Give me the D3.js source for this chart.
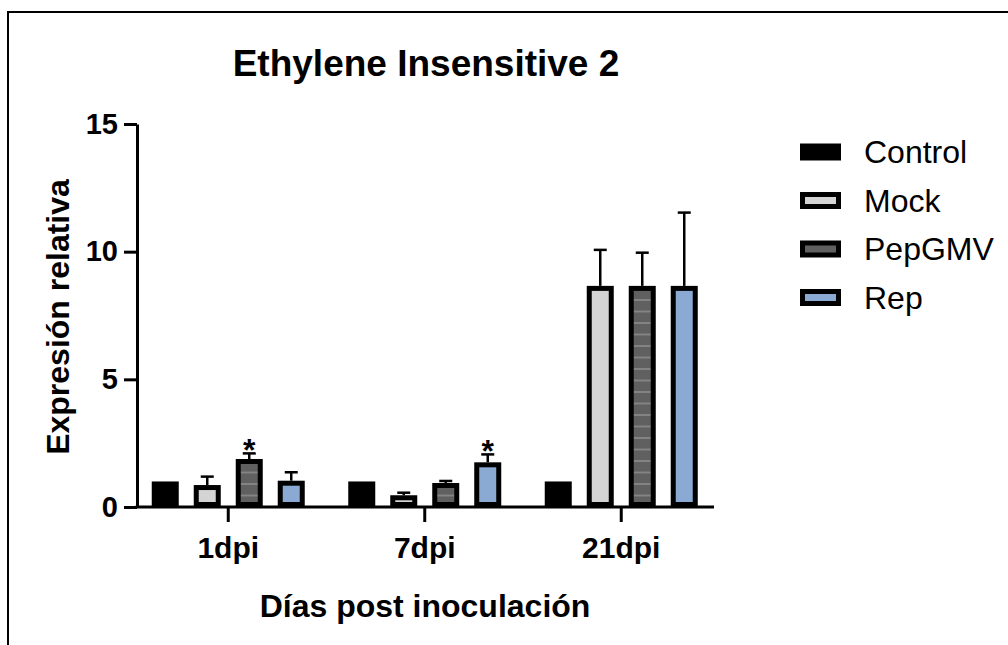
<!DOCTYPE html>
<html>
<head>
<meta charset="utf-8">
<script src="https://cdn.jsdelivr.net/npm/d3@7"></script>
<style>
  body { margin: 0; background: #fff; }
  svg text { font-family: "Liberation Sans", Arial, sans-serif; fill: #000; }
</style>
</head>
<body>
<svg id="chart" width="1008" height="645"></svg>
<script>
// data
var groups = ["1dpi", "7dpi", "21dpi"];
var series = ["Control", "Mock", "PepGMV", "Rep"];
var control = [1.0, 1.0, 1.0];
var mock = [0.86, 0.46, 8.66];
var pepgmv = [1.88, 0.94, 8.66];
var rep = [1.03, 1.75, 8.66];
var controlErr = [0, 0, 0];
var mockErr = [0.33, 0.10, 1.41];
var pepgmvErr = [0.22, 0.08, 1.30];
var repErr = [0.33, 0.31, 2.87];
var stars = [{group: "1dpi", serie: "PepGMV"}, {group: "7dpi", serie: "Rep"}];
var yTicks = [0, 5, 10, 15];

var means = {"Control": control, "Mock": mock, "PepGMV": pepgmv, "Rep": rep};
var errs = {"Control": controlErr, "Mock": mockErr, "PepGMV": pepgmvErr, "Rep": repErr};
var fills = {"Control": "#000000", "Mock": "#d4d4d4", "PepGMV": "url(#stripes)", "Rep": "#8aaad3"};
var legendFills = {"Control": "#000000", "Mock": "#d4d4d4", "PepGMV": "#606060", "Rep": "#8aaad3"};

var rows = [];
for (var i = 0; i < groups.length; i++){
    for (var j = 0; j < series.length; j++){
	rows.push({group: groups[i], serie: series[j],
		   val: means[series[j]][i], err: errs[series[j]][i]});
    }
}

var svg = d3.select("#chart");
var plotLeft = 137, plotRight = 714, plotTop = 124, plotBottom = 507;
var bw = 5; // bar border

// frame round the figure (only top and left show)
svg.append("rect")
    .attr("x", 8).attr("y", 12)
    .attr("width", 1200).attr("height", 800)
    .attr("fill", "none").attr("stroke", "#000").attr("stroke-width", 2);

var y = d3.scaleLinear().domain([0, 15]).range([plotBottom, plotTop]);
var x0 = d3.scaleBand().domain(groups).range([130, 719.5]);
var x1 = d3.scaleBand().domain(series).range([-84, 84])
    .paddingInner(0.357).paddingOuter(0.1786);

var defs = svg.append("defs");
var pat = defs.append("pattern")
    .attr("id", "stripes")
    .attr("patternUnits", "userSpaceOnUse")
    .attr("x", 0).attr("y", y(0))
    .attr("width", 10).attr("height", 11.5);
pat.append("rect").attr("width", 10).attr("height", 11.5).attr("fill", "#606060");
pat.append("rect").attr("y", -0.75).attr("width", 10).attr("height", 1.5).attr("fill", "#8e8e8e");
pat.append("rect").attr("y", 10.75).attr("width", 10).attr("height", 1.5).attr("fill", "#8e8e8e");

// title
svg.append("text")
    .attr("x", 426).attr("y", 76)
    .attr("text-anchor", "middle")
    .style("font-size", "37px").style("font-weight", "bold")
    .text("Ethylene Insensitive 2");

var barX = function(d){ return x0(d.group) + x0.bandwidth()/2 + x1(d.serie); };

// error bars (drawn first so bar border sits over the foot)
var eb = svg.append("g").selectAll("g").data(rows.filter(function(d){ return d.err > 0; }))
    .enter().append("g");
eb.append("line")
    .attr("x1", function(d){ return barX(d) + x1.bandwidth()/2; })
    .attr("x2", function(d){ return barX(d) + x1.bandwidth()/2; })
    .attr("y1", function(d){ return y(d.val); })
    .attr("y2", function(d){ return y(d.val + d.err); })
    .attr("stroke", "#000").attr("stroke-width", 2.5);
eb.append("line")
    .attr("x1", function(d){ return barX(d) + x1.bandwidth()/2 - 6.5; })
    .attr("x2", function(d){ return barX(d) + x1.bandwidth()/2 + 6.5; })
    .attr("y1", function(d){ return y(d.val + d.err); })
    .attr("y2", function(d){ return y(d.val + d.err); })
    .attr("stroke", "#000").attr("stroke-width", 2.5);

// bars, border inside the value
svg.append("g").selectAll("rect").data(rows).enter().append("rect")
    .attr("x", function(d){ return barX(d) + bw/2; })
    .attr("y", function(d){ return y(d.val) + bw/2; })
    .attr("width", x1.bandwidth() - bw)
    .attr("height", function(d){ return Math.max(0, y(0) - y(d.val) - bw); })
    .attr("fill", function(d){ return fills[d.serie]; })
    .attr("stroke", "#000").attr("stroke-width", bw);

// significance stars
svg.append("g").selectAll("text").data(stars).enter().append("text")
    .attr("x", function(d){ return x0(d.group) + x0.bandwidth()/2 + x1(d.serie) + x1.bandwidth()/2; })
    .attr("y", function(d){
	var gi = groups.indexOf(d.group);
	return y(means[d.serie][gi] + errs[d.serie][gi]) + 8;
    })
    .attr("text-anchor", "middle")
    .style("font-size", "32px").style("font-weight", "bold")
    .text("*");

// y axis
var yAxis = svg.append("g")
    .attr("transform", "translate(" + plotLeft + ",0)")
    .call(d3.axisLeft(y).tickValues(yTicks).tickSize(13).tickPadding(6).tickSizeOuter(0));
yAxis.select(".domain").attr("stroke-width", 3);
yAxis.selectAll(".tick line").attr("stroke-width", 3);
yAxis.selectAll(".tick text")
    .style("font-size", "29px").style("font-weight", "bold")
    .style("font-family", "'Liberation Sans', Arial, sans-serif");

// x axis
var xAxis = svg.append("g")
    .attr("transform", "translate(0," + plotBottom + ")")
    .call(d3.axisBottom(x0).tickSize(15).tickPadding(15).tickSizeOuter(0));
xAxis.select(".domain").remove();
xAxis.append("line")
    .attr("x1", plotLeft - 1.5).attr("x2", plotRight)
    .attr("stroke", "#000").attr("stroke-width", 3);
xAxis.selectAll(".tick line").attr("stroke-width", 3);
xAxis.selectAll(".tick text")
    .style("font-size", "30px").style("font-weight", "bold")
    .style("font-family", "'Liberation Sans', Arial, sans-serif");

// axis titles
svg.append("text")
    .attr("x", 425).attr("y", 617)
    .attr("text-anchor", "middle")
    .style("font-size", "32px").style("font-weight", "bold")
    .text("Días post inoculación");
svg.append("text")
    .attr("transform", "translate(69,317) rotate(-90)")
    .attr("text-anchor", "middle")
    .style("font-size", "32px").style("font-weight", "bold")
    .text("Expresión relativa");

// legend
var lg = svg.append("g").selectAll("g").data(series).enter().append("g")
    .attr("transform", function(d, i){ return "translate(800," + (152 + i*48.5) + ")"; });
lg.append("rect")
    .attr("x", bw/2).attr("y", -8.5 + bw/2)
    .attr("width", 41 - bw).attr("height", 17 - bw)
    .attr("fill", function(d){ return legendFills[d]; })
    .attr("stroke", "#000").attr("stroke-width", bw);
lg.append("text")
    .attr("x", 64).attr("y", 11)
    .style("font-size", "32px")
    .text(function(d){ return d; });
</script>
</body>
</html>
